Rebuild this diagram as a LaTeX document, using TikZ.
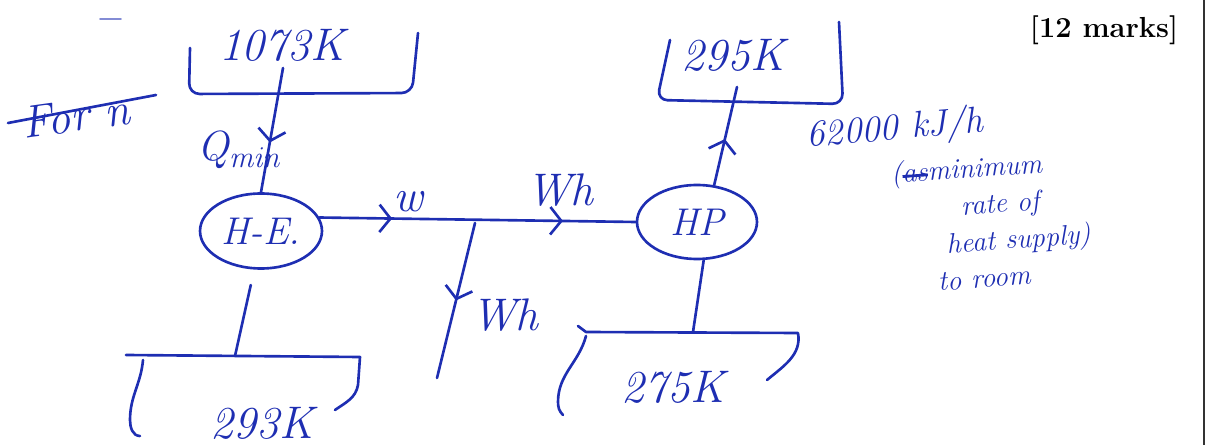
\documentclass[tikz,border=0pt]{standalone}
\usepackage{tikz}
\usetikzlibrary{positioning,calc,shapes.geometric,arrows.meta,decorations.markings}
\definecolor{inkblue}{RGB}{30,46,178}
\newcommand{\crossout}[1]{\setbox0\hbox{#1}\rlap{\raisebox{0.35ex}{\rule{\wd0}{1.6pt}}}\box0}

\begin{document}
\begin{tikzpicture}[
        x=0.02cm, y=-0.02cm,
        ink/.style={draw=inkblue, line width=1.5pt, line cap=round, line join=round},
        hand/.style={text=inkblue, font=\fontsize{#1}{#1}\selectfont\itshape, inner sep=1pt},
        hand/.default=24,
        device/.style={ellipse, ink, hand=22, minimum width=2.44cm, minimum height=1.5cm},
        midarrow/.style={postaction={decorate, decoration={markings,
            mark=at position #1 with {\arrow[inkblue, line width=1.5pt]{Straight Barb[length=2.2mm, width=5.5mm]}}}}}
    ]
    \useasboundingbox (0,0) rectangle (1209,445);

    % Page edge and marks
    \draw[line width=1.2pt, black!80] (1204,0) -- (1204,445);
    \node[font=\fontsize{16.5}{16.5}\selectfont\bfseries] (marks) at (1104,30) {[12 marks]};
    \draw[ink, draw=inkblue!55, line width=1pt] (100,19) -- (121,19);

    % Crossed-out word
    \node[hand=26, rotate=8] (crossed) at (76,116) {For n};
    \draw[ink] (8,123) -- (156,95);

    % Reservoirs
    \node[hand=26] (hot) at (282,45) {1073K};
    \draw[ink, rounded corners=6pt] (190,48) -- (189,94) -- (412,93) -- (418,33);
    \node[hand=26] (room) at (733,55) {295K};
    \draw[ink, rounded corners=6pt] (670,40) -- (657,100) -- (843,104) -- (839,22);
    \node[hand=26] (sink) at (262,423) {293K};
    \draw[ink] (126,355) -- (360,357) -- (358,385) to[out=-100, in=35] (335,410);
    \draw[ink] (143,360) to[out=-95, in=90] (130,420) to[out=-90, in=180] (140,436);
    \node[hand=26] (cold) at (673,387) {275K};
    \draw[ink] (578,326) -- (586,332) -- (798,333) to[out=-80, in=40] (767,380);
    \draw[ink] (586,336) to[out=-105, in=90] (558,402) to[out=-90, in=135] (563,415);

    % Attach points on the reservoirs
    \coordinate (hotout) at (283,68);
    \coordinate (roomin) at (737,87);
    \coordinate (sinkin) at (235,356);
    \coordinate (coldin) at (693,332);

    % Heat engine and heat pump
    \node[device] (he) at (261,231) {H-E.};
    \node[device, minimum width=2.4cm, minimum height=1.48cm] (hp) at (697,222) {HP};

    % Work split
    \coordinate (split) at (475,223);
    \coordinate (spare) at (437,378);

    % Flows
    \draw[ink, midarrow=0.6] (hotout) -- (he.north);
    \draw[ink, shorten <=9pt] (he.-100) -- (sinkin);
    \draw[ink, midarrow=0.23, midarrow=0.77] (he.13) -- (hp.west);
    \draw[ink, midarrow=0.5] (split) -- (spare);
    \draw[ink, midarrow=0.47] (hp.65) -- (roomin);
    \draw[ink] (hp.-80) -- (coldin);

    % Labels
    \node[hand=24] (qmin) at (240,150) {Q$_{\mathit{min}}$};
    \node[hand=26] (wout) at (408,202) {w};
    \node[hand=26] (whalf) at (560,190) {Wh};
    \node[hand=26] (wrest) at (505,315) {Wh};
    \node[hand=21, rotate=5] (rate) at (895,130) {62000 kJ/h};
    \node[text=inkblue, font=\fontsize{16}{21}\selectfont\itshape, inner sep=1pt,
          align=left, rotate=4, anchor=north west] (note) at (888,160)
        {(\crossout{as}minimum\\\hspace*{2.4em}rate of\\\hspace*{1.8em}heat supply)\\\hspace*{1.4em}to room};
\end{tikzpicture}
\end{document}
